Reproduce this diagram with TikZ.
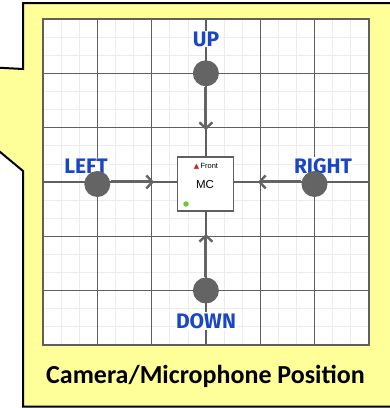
\documentclass[tikz,border=0pt]{standalone}
\usepackage{fontspec}
\setmainfont{Carlito}
\newfontfamily\lblfont{Fira Sans}
\newfontfamily\boxfont{Liberation Sans}
\newfontfamily\symfont{DejaVu Sans}
\usetikzlibrary{arrows.meta}
\definecolor{calloutyellow}{RGB}{255,255,153}
\definecolor{minorgrid}{RGB}{236,236,236}
\definecolor{majorgrid}{RGB}{95,95,95}
\definecolor{dotgray}{RGB}{100,100,100}
\definecolor{lblblue}{RGB}{25,70,200}
\definecolor{frontred}{RGB}{220,30,30}
\definecolor{mcgreen}{RGB}{110,200,60}
\tikzset{
  dirdot/.style={circle, fill=dotgray, minimum size=26pt, inner sep=0pt},
  dirarrow/.style={draw=dotgray, line width=3pt, -{Straight Barb[length=6pt,width=13pt,line width=2.4pt]}},
  dirlabel/.style={fill=white, inner sep=1pt, text=lblblue, font=\lblfont\bfseries\fontsize{21}{21}\selectfont},
  mcbox/.style={draw=majorgrid, fill=white, line width=1.3pt, minimum width=56pt, minimum height=54pt, inner sep=0pt},
}
\begin{document}
\begin{tikzpicture}[x=1pt,y=-1pt]
\useasboundingbox (0,0) rectangle (390,408);
\clip (0,0) rectangle (390,408);
% callout
\filldraw[fill=calloutyellow, draw=black, line width=2pt]
  (23,3) -- (396,3) -- (396,406.5) -- (23,406.5) -- (23,171) -- (-108,62) -- (23,69) -- cycle;
% grid panel
\fill[white] (43,19) rectangle (368.8,344.8);
\foreach \i in {1,...,17} {
  \draw[minorgrid, line width=0.6pt] ({43+\i*18.1},19) -- ({43+\i*18.1},344.8);
  \draw[minorgrid, line width=0.6pt] (43,{19+\i*18.1}) -- (368.8,{19+\i*18.1});
}
\foreach \i in {1,...,5} {
  \draw[majorgrid, line width=1.2pt] ({43+\i*54.3},19) -- ({43+\i*54.3},344.8);
  \draw[majorgrid, line width=1.2pt] (43,{19+\i*54.3}) -- (368.8,{19+\i*54.3});
}
\draw[majorgrid, line width=1.4pt] (43,19) rectangle (368.8,344.8);
% labels
\node[dirlabel] (lup) at (206,39) {UP};
\node[dirlabel] (lleft) at (86,166) {LEFT};
\node[dirlabel] (lright) at (323,166) {RIGHT};
\node[dirlabel] (ldown) at (206,321) {DOWN};
% dots
\node[dirdot] (up) at (205.9,73.3) {};
\node[dirdot] (down) at (205.9,290.5) {};
\node[dirdot] (left) at (97.3,184) {};
\node[dirdot] (right) at (314.5,184) {};
\coordinate (upend) at (205.9,130);
\coordinate (downend) at (205.9,234);
\coordinate (leftend) at (154,181.9);
\coordinate (rightend) at (258,181.9);
\draw[dirarrow] (up) -- (upend);
\draw[dirarrow] (down) -- (downend);
\draw[dirarrow] (left.east |- leftend) -- (leftend);
\draw[dirarrow] (right.west |- rightend) -- (rightend);
% MC box
\node[mcbox] (mc) at (205.5,184) {};
\node[inner sep=0pt, font=\boxfont\fontsize{11.5}{12}\selectfont] (mctext) at (205,184.5) {MC};
\node[inner sep=0pt, font=\boxfont\fontsize{7.5}{8}\selectfont] (front) at (206,166) {{\symfont\color{frontred}\fontsize{7}{7}\selectfont ▲}\,Front};
\node[circle, fill=mcgreen, minimum size=5.5pt, inner sep=0pt] (gdot) at (186,204) {};
% caption
\node[font=\bfseries\fontsize{26}{28}\selectfont] (caption) at (205.5,376) {Camera/Microphone Position};
\end{tikzpicture}
\end{document}
